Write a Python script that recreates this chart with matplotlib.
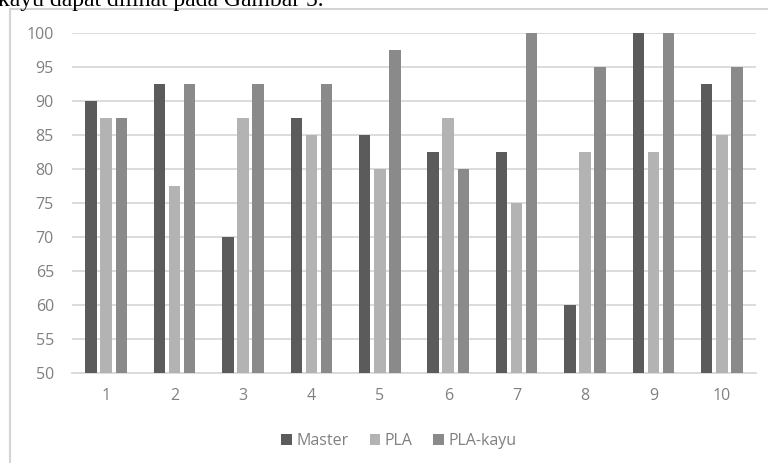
import numpy as np
import matplotlib
matplotlib.use("Agg")
import matplotlib.pyplot as plt
from matplotlib.lines import Line2D

# data
categories = ["1", "2", "3", "4", "5", "6", "7", "8", "9", "10"]
master = [90, 92.5, 70, 87.5, 85, 82.5, 82.5, 60, 100, 92.5]
pla = [87.5, 77.5, 87.5, 85, 80, 87.5, 75, 82.5, 82.5, 85]
pla_kayu = [87.5, 92.5, 92.5, 92.5, 97.5, 80, 100, 95, 100, 95]
series_names = ["Master", "PLA", "PLA-kayu"]
colors = ["#5b5b5b", "#b3b3b3", "#8a8a8a"]

plt.rcParams['font.family'] = ['Open Sans', 'DejaVu Sans']

fig = plt.figure(figsize=(7.68, 4.63), dpi=100)
ax = fig.add_axes([72/768, 1 - 373/463, 684/768, 340/463])

x = np.arange(len(categories))
offset = 0.22
width = 0.168
for i, (vals, name) in enumerate(zip([master, pla, pla_kayu], series_names)):
    ax.bar(x + (i - 1) * offset, [v - 50 for v in vals], width, bottom=50,
           color=colors[i], label=name, zorder=3)

ax.set_xlim(-0.5, len(categories) - 0.5)
ax.set_ylim(50, 100)
ax.set_yticks(np.arange(50, 101, 5))
ax.set_xticks(x)
ax.set_xticklabels(categories)
ax.grid(axis='y', color='#d9d9d9', linewidth=1.3, zorder=0)
for s in ['top', 'right', 'left']:
    ax.spines[s].set_visible(False)
ax.spines['bottom'].set_color('#d9d9d9')
ax.spines['bottom'].set_linewidth(1.3)
ax.tick_params(axis='both', length=0, labelsize=11.5, labelcolor='#808080')
ax.tick_params(axis='y', pad=13)
ax.tick_params(axis='x', pad=11)

leg = fig.legend(loc='center', bbox_to_anchor=(399/768, 1 - 441/463), ncol=3,
                 frameon=False, fontsize=11.5, handlelength=0.65, handleheight=0.65,
                 handletextpad=0.3, columnspacing=1.3)
for t in leg.get_texts():
    t.set_color('#808080')

# chart frame (only left and top edges visible in the screenshot)
fig.add_artist(Line2D([10/768, 10/768], [0, 1 - 9/463], transform=fig.transFigure,
                      color='#d4d4d4', linewidth=1.5))
fig.add_artist(Line2D([10/768, 1], [1 - 9/463, 1 - 9/463], transform=fig.transFigure,
                      color='#d4d4d4', linewidth=1.5))

# caption line from the document above the chart (cut at the top in the screenshot)
fig.text(-2/768, 1 - 6/463, "kayu dapat dilihat pada Gambar 5.", family='Liberation Serif',
         fontsize=17, color='black', va='baseline', ha='left')

fig.savefig("out.png", dpi=100)
